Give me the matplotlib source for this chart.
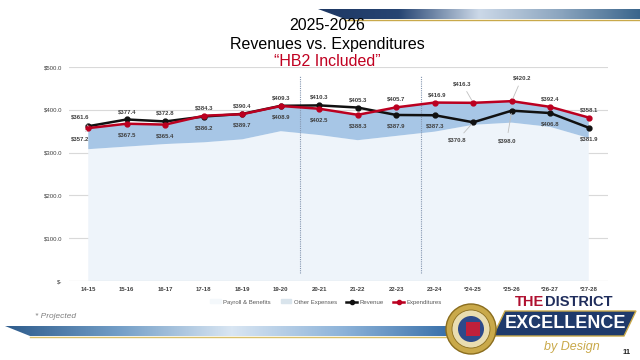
import matplotlib.pyplot as plt
import numpy as np
from matplotlib.patches import Polygon, Circle
from matplotlib.lines import Line2D
from matplotlib.patches import Patch

plt.rcParams['font.family'] = ['Liberation Sans', 'DejaVu Sans']

# data
years = ["14-15", "15-16", "16-17", "17-18", "18-19", "19-20", "20-21", "21-22",
         "22-23", "23-24", "*24-25", "*25-26", "*26-27", "*27-28"]
revenue = [361.6, 377.4, 372.8, 384.3, 390.4, 409.3, 410.3, 405.3,
           387.9, 387.3, 370.8, 398.0, 392.4, 358.1]
expenditures = [357.2, 367.5, 365.4, 386.2, 389.7, 408.9, 402.5, 388.3,
                405.7, 416.9, 416.3, 420.2, 406.8, 381.9]
payroll = [308, 314, 320, 324, 331, 350, 341, 329, 339, 349, 365, 370, 360, 334]
other = [e - p for e, p in zip(expenditures, payroll)]
# which series' label sits on top in the reference
rev_label_top = [True] * 8 + [False] * 4 + [True] * 2
yticks = [0, 100, 200, 300, 400, 500]
ytick_labels = ["$-", "$100.0", "$200.0", "$300.0", "$400.0", "$500.0"]

fig = plt.figure(figsize=(6.4, 3.6), dpi=100)
ax = fig.add_axes([69/640, 1-281/360, 539/640, 214/360])
x = np.arange(len(years))

ax.stackplot(x, payroll, other, colors=["#eef4fa", "#a7c6e6"], zorder=1)
for g in yticks[1:]:
    ax.axhline(g, color="#d9d9d9", lw=0.8, zorder=0)
ax.axhline(0, color="#bfbfbf", lw=0.8, zorder=2)
for v in [5.5, 8.65]:
    ax.plot([v, v], [18, 478], color="#8496b0", lw=0.8, ls=(0, (1, 1)), zorder=2)

ax.plot(x, revenue, color="#111111", lw=1.8, marker="o", ms=3.5, zorder=4)
ax.plot(x, expenditures, color="#bb0020", lw=1.8, marker="o", ms=3.5, zorder=5)

# data labels
special = {(0, True): (-8, 9), (0, False): (-8, -11),
           (10, True): (-11, 19), (10, False): (-16, -18),
           (11, True): (10, 23), (11, False): (-5, -30)}
for i in range(len(years)):
    hi = max(revenue[i], expenditures[i])
    lo = min(revenue[i], expenditures[i])
    top_txt = revenue[i] if rev_label_top[i] else expenditures[i]
    bot_txt = expenditures[i] if rev_label_top[i] else revenue[i]
    for txt, base, is_top in [(top_txt, hi, True), (bot_txt, lo, False)]:
        off = special.get((i, is_top), (2 if i == 9 and is_top else 0, 8 if is_top else -11))
        leader = (i, is_top) in special
        yb = revenue[i] if (is_top == rev_label_top[i]) else expenditures[i]
        ax.annotate(f"${txt:.1f}", (i, yb if leader else base), xytext=off,
                    textcoords="offset pixels", ha="center", va="center",
                    fontsize=4.3, fontweight="bold", color="#404040", zorder=6,
                    arrowprops=dict(arrowstyle="-", color="#bfbfbf", lw=0.6,
                                    shrinkA=2, shrinkB=2) if leader else None)

ax.set_xlim(-0.5, len(years) - 0.5)
ax.set_ylim(0, 500)
ax.set_yticks(yticks)
ax.set_yticklabels(ytick_labels)
ax.set_xticks(x)
ax.set_xticklabels(years)
ax.tick_params(axis="both", length=0, labelsize=4.3, colors="#404040")
ax.tick_params(axis="x", pad=4)
ax.tick_params(axis="y", pad=5)
for lab in ax.get_xticklabels():
    lab.set_fontweight("bold")
for s in ax.spines.values():
    s.set_visible(False)

handles = [Patch(color="#f4f8fb", label="Payroll & Benefits"),
           Patch(color="#d9e4ec", label="Other Expenses"),
           Line2D([], [], color="#111111", lw=1.8, marker="o", ms=3, label="Revenue"),
           Line2D([], [], color="#bb0020", lw=1.8, marker="o", ms=3, label="Expenditures")]
fig.legend(handles=handles, loc="center", bbox_to_anchor=(326/640, 1-302/360), ncol=4,
           frameon=False, fontsize=4.3, handlelength=1.8, handleheight=0.6,
           handletextpad=0.4, columnspacing=1.6, labelcolor="#595959")

# titles
fig.text(327/640, 1-26/360, "2025-2026", ha="center", va="center", fontsize=11.5)
fig.text(327/640, 1-44/360, "Revenues vs. Expenditures", ha="center", va="center", fontsize=11.5)
fig.text(327/640, 1-61/360, "\u201cHB2 Included\u201d", ha="center", va="center",
         fontsize=11.5, color="#c00020")
fig.text(35/640, 1-316/360, "* Projected", ha="left", va="center", fontsize=6,
         style="italic", color="#7f7f7f")

# decorations in pixel coords
deco = fig.add_axes([0, 0, 1, 1], zorder=-1)
deco.set_xlim(0, 640)
deco.set_ylim(360, 0)
deco.axis("off")
top_cols = np.array([[0.12, 0.22, 0.39], [0.15, 0.27, 0.45], [0.80, 0.85, 0.91],
                     [0.55, 0.65, 0.75], [0.23, 0.40, 0.55]])
grad = np.linspace(0, 1, 300)
def ramp(cols):
    pts = np.linspace(0, 1, len(cols))
    return np.stack([np.interp(grad, pts, cols[:, k]) for k in range(3)], axis=-1)[None, :, :]
im = deco.imshow(ramp(top_cols), extent=[318, 640, 19, 9], aspect="auto", zorder=1)
poly = Polygon([[318, 9], [640, 9], [640, 19], [345, 19]], closed=True, fc="none", ec="none")
deco.add_patch(poly)
im.set_clip_path(poly)
deco.plot([345, 640], [20, 20], color="#c9a94a", lw=1.0)

bot_cols = np.array([[0.18, 0.36, 0.55], [0.45, 0.62, 0.78], [0.85, 0.90, 0.95],
                     [0.55, 0.70, 0.85], [0.20, 0.42, 0.65]])
im2 = deco.imshow(ramp(bot_cols), extent=[5, 458, 336, 326], aspect="auto", zorder=1)
poly2 = Polygon([[5, 326], [458, 326], [458, 336], [30, 336]], closed=True, fc="none", ec="none")
deco.add_patch(poly2)
im2.set_clip_path(poly2)
deco.plot([30, 458], [337, 337], color="#d9c06a", lw=1.0)

# logo
deco.add_patch(Polygon([[505, 311], [636, 311], [624, 336], [493, 336]], fc="#1f3a6b", ec="#c9a94a", lw=1, zorder=2))
deco.add_patch(Circle((471, 329), 25, fc="#c9a94a", ec="#8a6d1e", lw=1, zorder=3))
deco.add_patch(Circle((471, 329), 19, fc="#e9ddb0", ec="#8a6d1e", lw=0.6, zorder=3))
deco.add_patch(Circle((471, 329), 13, fc="#2d4a8a", ec="none", zorder=3))
deco.add_patch(Polygon([[466, 322], [480, 322], [480, 336], [466, 336]], fc="#c0203a", ec="none", zorder=3))
deco.text(515, 302, "THE", fontsize=10.5, fontweight="bold", color="#b01030", va="center", ha="left")
deco.text(545, 302, "DISTRICT", fontsize=10.5, fontweight="bold", color="#1f2d5c", va="center", ha="left")
deco.text(565, 324, "EXCELLENCE", fontsize=13, fontweight="bold", color="white", va="center", ha="center", zorder=4)
deco.text(572, 347, "by Design", fontsize=9, style="italic", color="#c9a94a", va="center", ha="center", zorder=4)
deco.text(627, 352, "11", fontsize=5.5, fontweight="bold", color="#222222", va="center", ha="center")

fig.savefig("out.png", dpi=100)
